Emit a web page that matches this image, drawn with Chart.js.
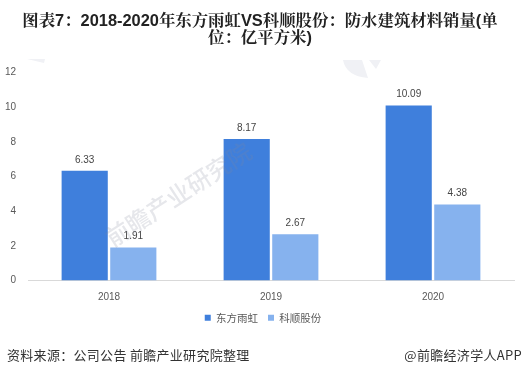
<!DOCTYPE html>
<html>
<head>
<meta charset="utf-8">
<script src="https://cdn.jsdelivr.net/npm/chart.js@4"></script>
<style>
html, body { margin: 0; padding: 0; background: #fff; overflow: hidden; }
#wrap { position: absolute; left: 0; top: 0; width: 524px; height: 375px; }
#titulo { position: absolute; left: 0; top: 12px; width: 520px; text-align: center; white-space: nowrap; color: #222; font: bold 16.4px/17px "Liberation Sans", "Noto Serif CJK SC", "Noto Sans CJK SC", sans-serif; }
.foot { position: absolute; top: 345px; font: 13px "Noto Sans CJK SC", sans-serif; color: #333; letter-spacing: 0.3px; white-space: nowrap; }
</style>
</head>
<body>
<div id="wrap"><canvas id="canvasVentas"></canvas></div>
<div id="titulo">图表7：2018-2020年东方雨虹VS科顺股份：防水建筑材料销量(单<br>位：亿平方米)</div>
<div class="foot" style="left:7px">资料来源：公司公告 前瞻产业研究院整理</div>
<div class="foot" style="right:2px">@前瞻经济学人APP</div>
<script>
var categories = ['2018', '2019', '2020'];
var dongfang = [6.33, 8.17, 10.09];
var keshun = [1.91, 2.67, 4.38];
var seriesNames = ['东方雨虹', '科顺股份'];
var watermark = '前瞻产业研究院';

// etiquetas encima de cada barra
var barLabels = {
	id: 'barLabels',
	afterDatasetsDraw: function(chart){
		var ctx = chart.ctx;
		ctx.save();
		ctx.font = '10px "Liberation Sans", sans-serif';
		ctx.fillStyle = '#444';
		ctx.textAlign = 'center';
		ctx.textBaseline = 'bottom';
		chart.data.datasets.forEach(function(ds, i){
			chart.getDatasetMeta(i).data.forEach(function(bar, j){
				ctx.fillText(ds.data[j].toFixed(2), bar.x, bar.y - 6);
			});
		});
		ctx.restore();
	}
};

// marca de agua: manchas de fondo y texto sobre las barras
var marca = {
	id: 'marca',
	// el recorte de los ticks usa scale.left, se abre para que no corte las etiquetas
	afterLayout: function(chart){
		chart.scales.y.left = 0;
	},
	beforeDraw: function(chart){
		var ctx = chart.ctx;
		ctx.save();
		ctx.fillStyle = '#f0f1f5';
		ctx.beginPath();
		ctx.moveTo(343, 60); ctx.lineTo(362, 60); ctx.lineTo(368, 78);
		ctx.quadraticCurveTo(346, 76, 343, 60);
		ctx.fill();
		ctx.beginPath();
		ctx.moveTo(369, 60); ctx.lineTo(381, 60); ctx.lineTo(376, 69);
		ctx.fill();
		ctx.beginPath();
		ctx.moveTo(27, 59); ctx.lineTo(45, 59); ctx.lineTo(44, 63);
		ctx.fill();
		ctx.restore();
	},
	afterDraw: function(chart){
		var ctx = chart.ctx;
		ctx.save();
		ctx.translate(108, 240);
		ctx.rotate(-33 * Math.PI / 180);
		ctx.font = '500 24px "Noto Sans CJK SC", sans-serif';
		ctx.fillStyle = 'rgba(130,135,155,0.2)';
		ctx.textAlign = 'left';
		ctx.fillText(watermark, 0, 0);
		ctx.restore();
	}
};

var ctx = document.getElementById('canvasVentas').getContext('2d');
window.myBar = new Chart(ctx, {
	type: 'bar',
	data: {
		labels: categories,
		datasets: [
			{ label: seriesNames[0], data: dongfang, backgroundColor: '#3f7fdc' },
			{ label: seriesNames[1], data: keshun, backgroundColor: '#86b2ee' }
		]
	},
	options: {
		responsive: true,
		maintainAspectRatio: false,
		animation: false,
		categoryPercentage: 0.6,
		barPercentage: 0.95,
		layout: { padding: { left: 12, right: 10, top: 72.5, bottom: 42 } },
		plugins: {
			title: { display: false },
			legend: {
				position: 'bottom',
				labels: {
					usePointStyle: true,
					pointStyle: 'rect',
					boxWidth: 6,
					boxHeight: 6,
					padding: 10,
					color: '#595959',
					font: { family: '"Noto Sans CJK SC", sans-serif', size: 10.5 }
				}
			},
			tooltip: { enabled: false }
		},
		scales: {
			x: {
				afterFit: function(axis){ axis.height = 22; },
				grid: { display: false },
				border: { color: '#d9d9d9' },
				ticks: { color: '#595959', padding: 3, font: { family: '"Liberation Sans", sans-serif', size: 10 } }
			},
			y: {
				min: 0,
				max: 12,
				afterFit: function(axis){ axis.width = 16; },
				grid: { display: false },
				border: { display: false },
				ticks: { stepSize: 2, color: '#595959', padding: 4, font: { family: '"Liberation Sans", sans-serif', size: 10 } }
			}
		}
	},
	plugins: [barLabels, marca]
});
</script>
</body>
</html>
